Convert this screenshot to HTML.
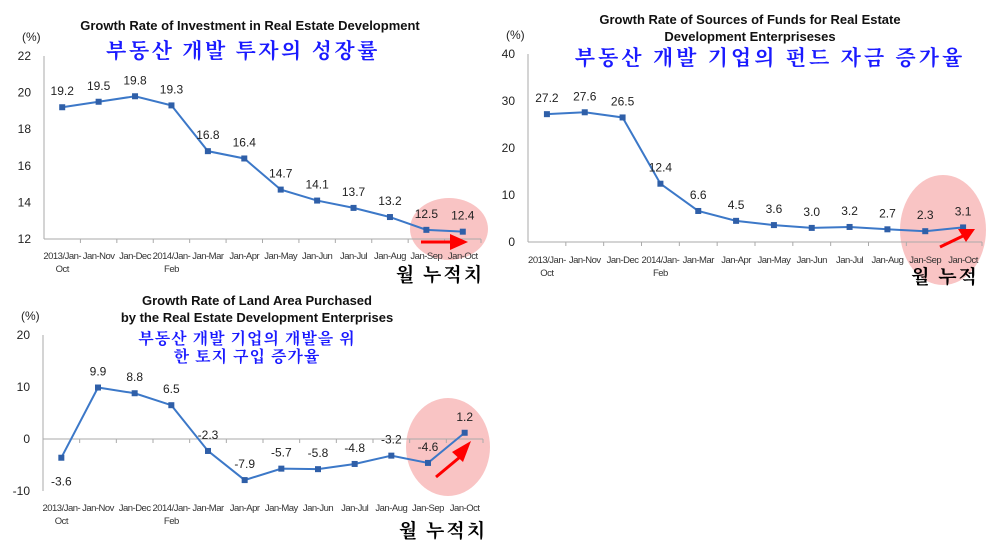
<!DOCTYPE html>
<html><head><meta charset="utf-8"><style>
body{margin:0;background:#fff;}
svg{display:block;font-family:"Liberation Sans",Arial,sans-serif;}
.t{font-weight:bold;font-size:13px;fill:#111;}
.k{font-family:"Noto Serif CJK KR","Noto Serif CJK SC","Noto Sans CJK KR",serif;font-weight:bold;fill:#1a1aff;font-size:21px;}
.kb{font-family:"Noto Serif CJK KR","Noto Serif CJK SC","Noto Sans CJK KR",serif;font-weight:bold;fill:#000;font-size:19px;}
.tick{font-size:12px;fill:#222;}
.cat{font-size:9.5px;fill:#333;letter-spacing:-0.5px;}
.v{font-size:12px;fill:#222;}
</style></head><body>
<svg id="s" width="1002" height="559">
<ellipse cx="449" cy="229" rx="39" ry="31" fill="#f9c4c4"/>
<ellipse cx="943" cy="230" rx="43" ry="55" fill="#f9c4c4"/>
<ellipse cx="448" cy="447" rx="42" ry="49" fill="#f9c4c4"/>
<text class="t" x="250" y="30" text-anchor="middle">Growth Rate of Investment in Real Estate Development</text>
<text class="k" x="243" y="58" text-anchor="middle" style="letter-spacing:2.5px">부동산 개발 투자의 성장률</text>
<text class="t" x="750" y="24" text-anchor="middle">Growth Rate of Sources of Funds for Real Estate</text>
<text class="t" x="750" y="41" text-anchor="middle">Development Enterpriseses</text>
<text class="k" x="770" y="65" text-anchor="middle" style="letter-spacing:3px">부동산 개발 기업의 펀드 자금 증가율</text>
<text class="t" x="257" y="305" text-anchor="middle">Growth Rate of Land Area Purchased</text>
<text class="t" x="257" y="322" text-anchor="middle">by the Real Estate Development Enterprises</text>
<text class="k" x="247" y="344" text-anchor="middle" style="font-size:16px;letter-spacing:1px">부동산 개발 기업의 개발을 위</text>
<text class="k" x="247" y="362" text-anchor="middle" style="font-size:16px;letter-spacing:1px">한 토지 구입 증가율</text>
<text class="kb" x="440" y="281" text-anchor="middle" style="letter-spacing:2px">월 누적치</text>
<text class="kb" x="945" y="283" text-anchor="middle" style="letter-spacing:2px">월 누적</text>
<text class="kb" x="443" y="537" text-anchor="middle" style="letter-spacing:2px">월 누적치</text>
<g id="g1"></g><g id="g2"></g><g id="g3"></g>
<line x1="421" y1="242" x2="455" y2="242" stroke="#f00" stroke-width="3"/>
<polygon points="450,234 468,242 450,250" fill="#f00"/>
<line x1="940" y1="247" x2="965" y2="235" stroke="#f00" stroke-width="3"/>
<polygon points="958,229 975,229 966,242" fill="#f00"/>
<line x1="436" y1="477" x2="460" y2="457" stroke="#f00" stroke-width="3"/>
<polygon points="452,452 471,441 463,462" fill="#f00"/>
</svg>
<script>
const categories = ["2013/Jan-|Oct","Jan-Nov","Jan-Dec","2014/Jan-|Feb","Jan-Mar","Jan-Apr","Jan-May","Jan-Jun","Jan-Jul","Jan-Aug","Jan-Sep","Jan-Oct"];
const investValues = [19.2,19.5,19.8,19.3,16.8,16.4,14.7,14.1,13.7,13.2,12.5,12.4];
const investTicks = [12,14,16,18,20,22];
const fundsValues = [27.2,27.6,26.5,12.4,6.6,4.5,3.6,3.0,3.2,2.7,2.3,3.1];
const fundsTicks = [0,10,20,30,40];
const landValues = [-3.6,9.9,8.8,6.5,-2.3,-7.9,-5.7,-5.8,-4.8,-3.2,-4.6,1.2];
const landTicks = [-10,0,10,20];
const NS="http://www.w3.org/2000/svg";
function mk(p,tag,at,txt){const e=document.createElementNS(NS,tag);for(const k in at)e.setAttribute(k,at[k]);if(txt!==undefined)e.textContent=txt;p.appendChild(e);return e;}
function draw(id,vals,ticks,o){
  const g=document.getElementById(id);
  const min=ticks[0],max=ticks[ticks.length-1];
  const y=v=>o.yb-(v-min)/(max-min)*(o.yb-o.yt);
  const bw=(o.xr-o.xl)/categories.length;
  const x=i=>o.xl+bw*(i+0.5);
  const ax=mk(g,'line',{x1:o.xl,y1:o.yt,x2:o.xl,y2:o.yb,stroke:'#aaa'});
  
  
  const u=mk(g,'text',{x:o.xl-22,y:o.yt-15,'class':'tick','font-size':'11'},'(%)');
  
  
  ticks.forEach(t=>{
    const tl=mk(g,'text',{x:o.xl-13,y:y(t)+4,'class':'tick','text-anchor':'end'},t);
    
    
  });
  const y0=y(o.base);
  const xa=mk(g,'line',{x1:o.xl,y1:y0,x2:o.xr,y2:y0,stroke:'#aaa'});
  
  
  categories.forEach((c,i)=>{
    mk(g,'line',{x1:o.xl+bw*(i+1),y1:y0,x2:o.xl+bw*(i+1),y2:y0+4,stroke:'#aaa'});
    const parts=c.split('|');
    parts.forEach((p,j)=>{
      const cl=mk(g,'text',{x:x(i),y:o.cy+j*13,'class':'cat','text-anchor':'middle'},p);
      
      
    });
  });
  const ln=mk(g,'polyline',{points:vals.map((v,i)=>x(i)+','+y(v)).join(' '),fill:'none',stroke:'#3c78c8','stroke-width':2});
  
  
  vals.forEach((v,i)=>{
    const p=mk(g,'rect',{x:x(i)-3,y:y(v)-3,width:6,height:6,fill:'#2f5fa8'});
    
    
    const below=(id==='g3'&&i===0);
    const lb=mk(g,'text',{x:x(i),y:below?y(v)+28:y(v)-12,'class':'v','text-anchor':'middle'},v.toFixed(1));
    
    
  });
}
draw('g1',investValues,investTicks,{xl:44,xr:481,yt:56,yb:239,base:12,cy:259});
draw('g2',fundsValues,fundsTicks,{xl:528,xr:982,yt:54,yb:242,base:0,cy:263});
draw('g3',landValues,landTicks,{xl:43,xr:483,yt:335,yb:491,base:0,cy:511});
</script>
</body></html>
